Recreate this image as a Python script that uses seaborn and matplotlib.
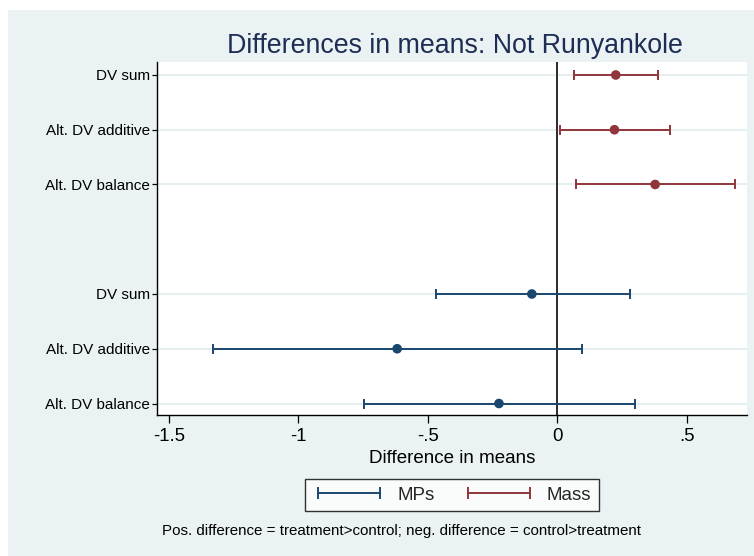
import numpy as np
import pandas as pd
import seaborn as sns
import matplotlib
matplotlib.use("Agg")
import matplotlib.pyplot as plt
from matplotlib.lines import Line2D
from matplotlib.patches import Rectangle
from matplotlib.ticker import FixedLocator, FixedFormatter

# ---------------- data ----------------
outcomes = ["DV sum", "Alt. DV additive", "Alt. DV balance"]
groups = ["Mass", "MPs"]

mass_est = [0.225, 0.220, 0.377]
mass_lo = [0.064, 0.009, 0.070]
mass_hi = [0.387, 0.433, 0.685]

mps_est = [-0.099, -0.619, -0.226]
mps_lo = [-0.471, -1.332, -0.747]
mps_hi = [0.280, 0.093, 0.299]

x_ticks = [-1.5, -1.0, -0.5, 0.0, 0.5]
x_ticklabels = ["-1.5", "-1", "-.5", "0", ".5"]

title = "Differences in means: Not Runyankole"
xlabel = "Difference in means"
note = "Pos. difference = treatment>control; neg. difference = control>treatment"

# ---------------- styling ----------------
sns.set_theme(style="white")
plt.rcParams["font.family"] = ["Liberation Sans", "DejaVu Sans"]

C_MASS = "#90353B"
C_MPS = "#1A476F"
BG = "#EAF2F3"
GRID = "#E6EEF0"

# build table (row index includes a blank gap row between groups)
rows = []
est_map = {"Mass": (mass_est, mass_lo, mass_hi), "MPs": (mps_est, mps_lo, mps_hi)}
pos = 1
for gi, g in enumerate(groups):
    e, lo, hi = est_map[g]
    for i, o in enumerate(outcomes):
        rows.append(dict(group=g, outcome=o, est=e[i], lo=lo[i], hi=hi[i], row=pos))
        pos += 1
    pos += 1
df = pd.DataFrame(rows)

W, H, DPI = 754, 556, 100
fig = plt.figure(figsize=(W / DPI, H / DPI), dpi=DPI, facecolor="white")
fig.patches.append(Rectangle((8 / W, 0), 1 - 8 / W, 1 - 10 / H, transform=fig.transFigure,
                             facecolor=BG, edgecolor="none", zorder=-10))

ax = fig.add_axes([157 / W, 1 - 415 / H, 590 / W, 353 / H])
ax.set_facecolor("white")

# grid lines at rows
for r in df["row"]:
    ax.axhline(r, color=GRID, lw=1.5, zorder=0)

# zero line
ax.axvline(0, color="#2b2b2b", lw=1.4, zorder=1)

palette = {"Mass": C_MASS, "MPs": C_MPS}
for g in groups:
    sub = df[df.group == g]
    ax.errorbar(sub["est"], sub["row"],
                xerr=[sub["est"] - sub["lo"], sub["hi"] - sub["est"]],
                fmt="none", ecolor=palette[g], elinewidth=1.4, capsize=3.9,
                capthick=1.4, zorder=2)

sns.scatterplot(data=df, x="est", y="row", hue="group", palette=palette,
                s=48, edgecolor="none", legend=False, ax=ax, zorder=3)

ax.set_xlim(-1.5463, 0.7317)
ax.set_ylim(7.21, 0.763)
ax.xaxis.set_major_locator(FixedLocator(x_ticks))
ax.xaxis.set_major_formatter(FixedFormatter(x_ticklabels))
ax.set_yticks(df["row"].tolist())
ax.set_yticklabels(df["outcome"].tolist())

for s in ["top", "right"]:
    ax.spines[s].set_visible(False)
for s in ["left", "bottom"]:
    ax.spines[s].set_color("black")
    ax.spines[s].set_linewidth(1.0)

ax.tick_params(axis="x", which="major", length=5.8, width=0.9, color="black",
               labelsize=13.4, pad=3.5, labelcolor="black", bottom=True)
ax.tick_params(axis="y", which="major", length=3.5, width=0.9, color="black",
               labelsize=11, pad=1.5, labelcolor="black", left=True)
ax.set_xlabel(xlabel, fontsize=13.5, color="black")
ax.xaxis.label.set_va("baseline")
ax.xaxis.set_label_coords(0.5, (415 - 463.3) / 353)
ax.set_ylabel("")

fig.text(455 / W, 1 - 53.3 / H, title, ha="center", va="baseline",
         fontsize=19.3, color="#1E2D53")

handles = [Line2D([0], [0], color=C_MPS, lw=1.4, marker="|", markersize=8, markeredgewidth=1.4),
           Line2D([0], [0], color=C_MASS, lw=1.4, marker="|", markersize=8, markeredgewidth=1.4)]
leg = fig.legend(handles, ["MPs", "Mass"], loc="center",
                 bbox_to_anchor=(452 / W, 1 - 495 / H), ncol=2, numpoints=2,
                 fontsize=13.5, frameon=True, fancybox=False, handlelength=3.9,
                 handletextpad=0.6, columnspacing=1.5, borderpad=0.4)
leg.get_frame().set_edgecolor("black")
leg.get_frame().set_linewidth(1.0)
leg.get_frame().set_facecolor("white")

fig.text(401.5 / W, 1 - 535 / H, note, ha="center", va="baseline", fontsize=10.9, color="black")

fig.savefig("out.png", dpi=DPI, facecolor="white")
